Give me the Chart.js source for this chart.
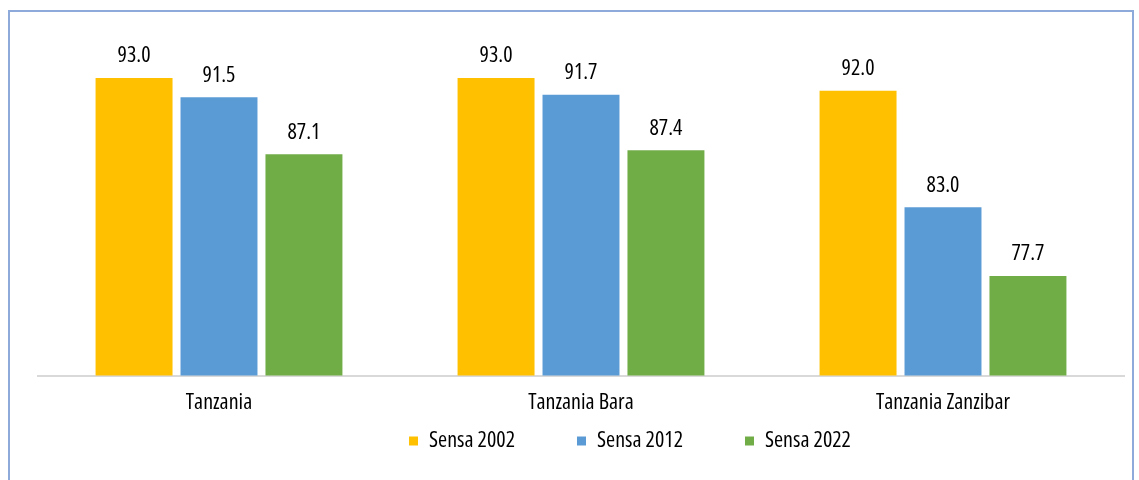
<!DOCTYPE html>
<html>
<head>
<meta charset="utf-8">
<script src="https://cdn.jsdelivr.net/npm/chart.js@4/dist/chart.umd.min.js"></script>
<style>
  html, body { margin: 0; padding: 0; background: #fff; }
  #wrap { position: relative; width: 1139px; height: 480px; overflow: hidden; }
  #frame { position: absolute; left: 8px; top: 10px; width: 1126px; height: 500px; border: 2px solid #8eaadb; box-sizing: border-box; }
  canvas { position: absolute; left: 0; top: 0; }
</style>
</head>
<body>
<div id="wrap">
  <div id="frame"></div>
  <canvas id="c" width="1139" height="480"></canvas>
</div>
<script>
const categories = ["Tanzania", "Tanzania Bara", "Tanzania Zanzibar"];
const seriesNames = ["Sensa 2002", "Sensa 2012", "Sensa 2022"];
const sensa2002 = [93.0, 93.0, 92.0];
const sensa2012 = [91.5, 91.7, 83.0];
const sensa2022 = [87.1, 87.4, 77.7];
const colors = ["#FFC000", "#5B9BD5", "#70AD47"];

const FAMILY = "'Open Sans', 'Liberation Sans', sans-serif";
const STRETCH = 'condensed';
const FSIZE = 22;
const LEGEND_GAP = 62;
const LEGEND_SHIFT = 49;

const dataLabels = {
  id: 'dataLabels',
  afterDatasetsDraw(chart) {
    const ctx = chart.ctx;
    ctx.save();
    ctx.font = STRETCH + ' ' + FSIZE + 'px ' + FAMILY;
    ctx.fillStyle = '#000';
    ctx.textAlign = 'center';
    ctx.textBaseline = 'middle';
    chart.data.datasets.forEach((ds, i) => {
      chart.getDatasetMeta(i).data.forEach((bar, j) => {
        ctx.fillText(ds.data[j].toFixed(1), bar.x, bar.y - 22);
      });
    });
    ctx.restore();
  }
};

const legendFix = {
  id: 'legendFix',
  beforeInit(chart) {
    const lg = chart.legend;
    if (lg) {
      const orig = lg.fit;
      lg.fit = function () { orig.call(this); this.height = 50; };
    }
  },
  afterLayout(chart) {
    const lg = chart.legend;
    if (lg) {
      lg.top = 430 - LEGEND_GAP;
      lg.bottom = 480;
      lg.height = lg.bottom - lg.top;
      lg.left += LEGEND_SHIFT;
      lg.right += LEGEND_SHIFT;
    }
  }
};

new Chart(document.getElementById('c'), {
  type: 'bar',
  data: {
    labels: categories,
    datasets: [
      { label: seriesNames[0], data: sensa2002, backgroundColor: colors[0] },
      { label: seriesNames[1], data: sensa2012, backgroundColor: colors[1] },
      { label: seriesNames[2], data: sensa2022, backgroundColor: colors[2] }
    ]
  },
  options: {
    responsive: false,
    animation: false,
    layout: { padding: { left: 38, right: 15, top: 52, bottom: 0 } },
    datasets: { bar: { categoryPercentage: 0.704, barPercentage: 0.906 } },
    scales: {
      x: {
        grid: { display: false, drawTicks: false },
        border: { display: true, color: '#d9d9d9', width: 2 },
        ticks: { color: '#000', font: { family: FAMILY, size: FSIZE, weight: STRETCH }, padding: 14 }
      },
      y: {
        display: false,
        min: 70,
        max: 95
      }
    },
    plugins: {
      legend: {
        position: 'bottom',
        labels: {
          boxWidth: 9,
          boxHeight: 9,
          padding: LEGEND_GAP,
          color: '#000',
          font: { family: FAMILY, size: FSIZE, weight: STRETCH }
        }
      },
      tooltip: { enabled: false }
    }
  },
  plugins: [dataLabels, legendFix]
});
</script>
</body>
</html>
